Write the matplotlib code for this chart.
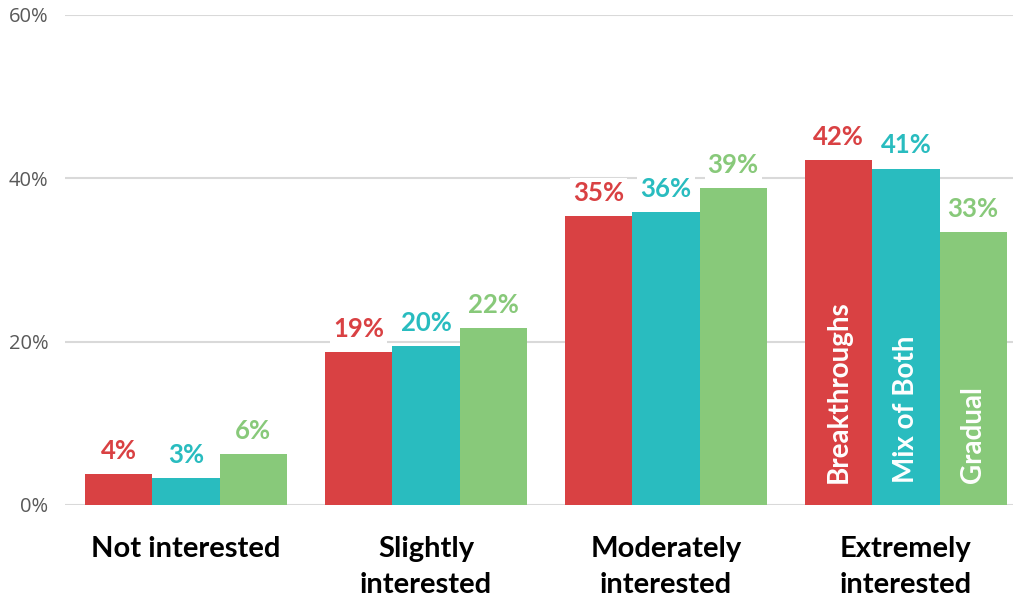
import numpy as np
import matplotlib
matplotlib.use("Agg")
import matplotlib.pyplot as plt

categories = ["Not interested", "Slightly\ninterested", "Moderately\ninterested", "Extremely\ninterested"]
series_names = ["Breakthroughs", "Mix of Both", "Gradual"]
breakthroughs = [3.8, 18.7, 35.4, 42.2]
mix_of_both = [3.3, 19.5, 35.9, 41.2]
gradual = [6.2, 21.7, 38.8, 33.4]
value_labels = [
    ["4%", "19%", "35%", "42%"],
    ["3%", "20%", "36%", "41%"],
    ["6%", "22%", "39%", "33%"],
]
yticks = [0, 20, 40, 60]
ytick_labels = ["0%", "20%", "40%", "60%"]

colors = ["#D94143", "#29BCBF", "#88C97A"]
FONT = ["Lato", "DejaVu Sans"]

fig = plt.figure(figsize=(10.13, 6.0), dpi=100)
ax = fig.add_axes([65 / 1013, 1 - 505 / 600, 1 - 65 / 1013, 490 / 600])

x = np.arange(len(categories))
w = 0.28
series = [breakthroughs, mix_of_both, gradual]

for j, vals in enumerate(series):
    pos = x + (j - 1) * w
    ax.bar(pos, vals, width=w, color=colors[j], zorder=3)
    for i, v in enumerate(vals):
        ax.annotate(value_labels[j][i], (pos[i], v), xytext=(0, 8),
                    textcoords="offset points", ha="center", va="bottom",
                    fontsize=18.5, fontweight="bold", color=colors[j],
                    family=FONT, zorder=4,
                    bbox=dict(boxstyle="square,pad=0.12", fc="white", ec="none"))
    # series name written inside the last group's bar
    ax.annotate(series_names[j], (pos[-1], 0), xytext=(0, 16),
                textcoords="offset points", ha="center", va="bottom",
                rotation=90, fontsize=20, fontweight="bold", color="white",
                family=FONT, zorder=4)

ax.set_xlim(-0.504, 3.446)
ax.set_ylim(0, 60)
ax.set_yticks(yticks)
ax.set_yticklabels(ytick_labels, fontsize=14.5, color="#595959", family=["Open Sans", "DejaVu Sans"])
ax.yaxis.grid(True, color="#D9D9D9", lw=1.5, zorder=0)
ax.tick_params(axis="y", length=0, pad=12)
ax.tick_params(axis="x", length=0, pad=22)
ax.set_xticks(x)
ax.set_xticklabels(categories, fontsize=21, fontweight="bold", color="black",
                   family=FONT, linespacing=1.5, va="top")
for s in ax.spines.values():
    s.set_visible(False)

fig.savefig("out.png", dpi=100)
